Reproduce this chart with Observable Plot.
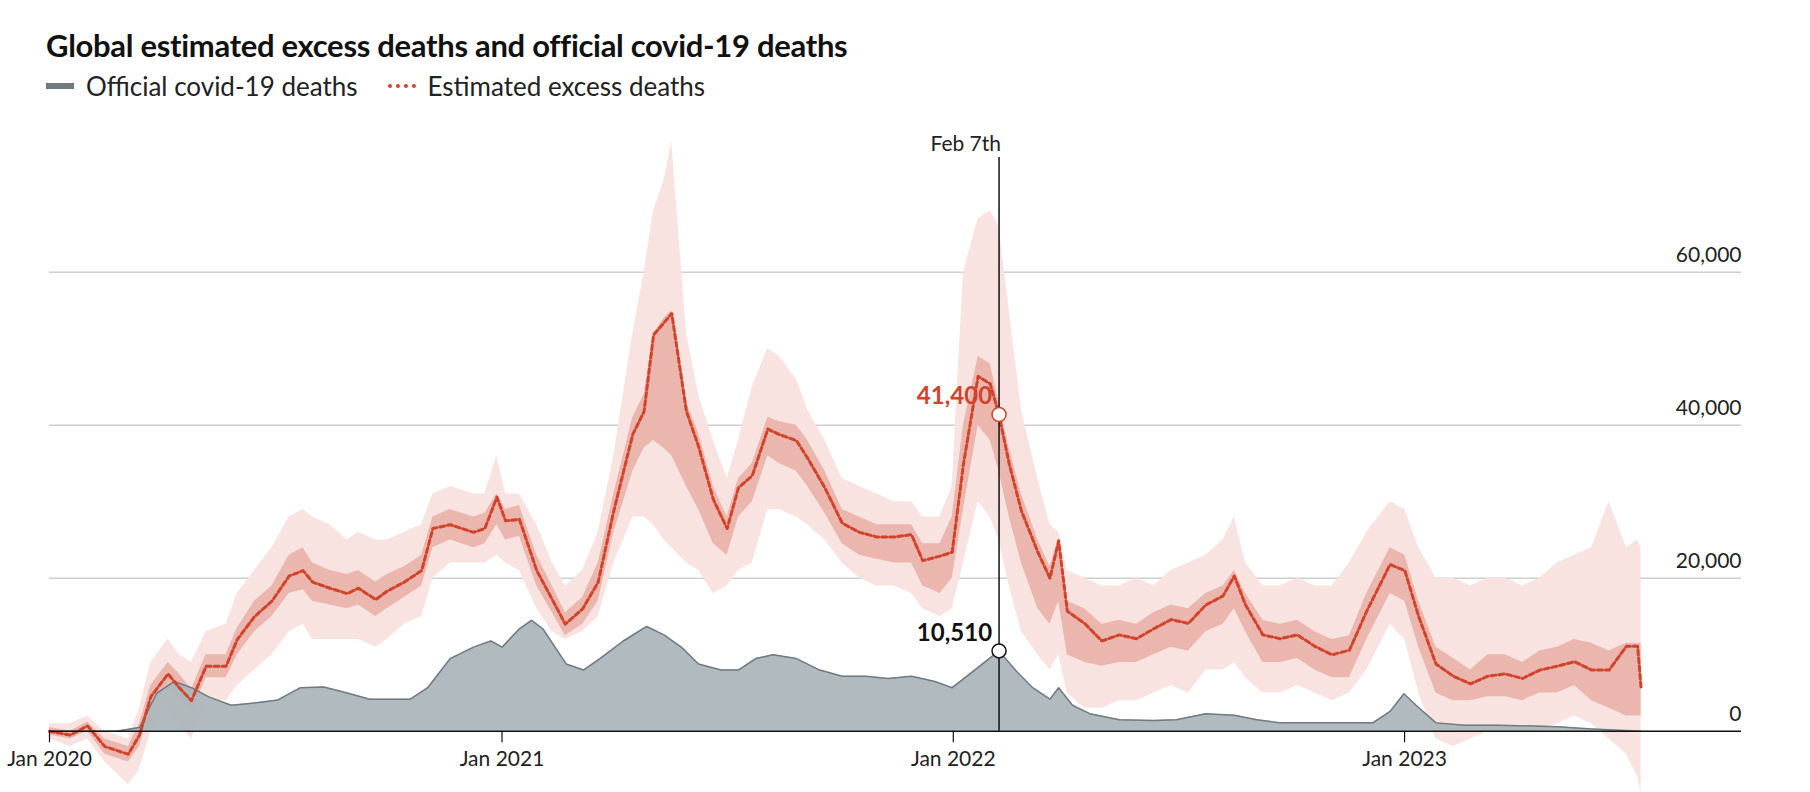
<!DOCTYPE html>
<html>
<head>
<meta charset="utf-8">
<script src="https://cdn.jsdelivr.net/npm/d3@7"></script>
<script src="https://cdn.jsdelivr.net/npm/@observablehq/plot@0.6"></script>
<style>
  body { margin: 0; background: #fff; font-family: Lato, "Open Sans", sans-serif; overflow: hidden; }
  #wrap { width: 1810px; height: 792px; position: relative; }
  h1 { position: absolute; left: 46px; top: 26px; margin: 0; font-size: 31px; font-weight: 700; color: #111; letter-spacing: -0.3px; }
  .legend { position: absolute; left: 46px; top: 70px; font-size: 26px; color: #222; display: flex; gap: 30px; }
  .legend span { display: inline-flex; align-items: center; }
  .sw { display: inline-block; width: 28px; height: 0; margin-right: 12px; }
  #chart { position: absolute; left: 0; top: 105px; }
</style>
</head>
<body>
<div id="wrap">
  <h1>Global estimated excess deaths and official covid-19 deaths</h1>
  <div class="legend">
    <span><i class="sw" style="border-top:6px solid #6f7b80"></i>Official covid-19 deaths</span>
    <span><i class="sw" style="border-top:4px dotted #d1432a"></i>Estimated excess deaths</span>
  </div>
  <div id="chart"></div>
</div>
<script>
// weeks since Jan 1st 2020, values in thousands
const estWeeks = [0,2.4,4.4,6.4,9.1,10.4,11.7,13.7,15,16.4,18.1,20.4,21.7,23.7,25.7,27.7,29.3,30.4,32.4,34.4,35.7,37.7,39,41,43,44.3,46.3,49,50.3,51.7,52.7,54.3,56.3,58.1,59.6,61.6,63.4,65.2,67.4,68.7,69.8,71,71.9,73.6,75,76.7,78.3,79.6,81.2,83,84.3,86.3,87.6,89.6,91.6,93.6,95.6,97.6,99.6,100.9,102.9,104.3,105.6,107.3,108.7,109.7,110.9,112.3,114.2,115.6,116.6,117.6,119.6,121.6,123.6,125.6,127.6,129.6,131.6,133.6,135.6,136.9,138.2,140.2,142.2,144.2,146.2,148.2,150.2,152.2,154.9,156.6,158.2,160.2,162.2,164.2,166.2,168.2,170.2,172.2,174.2,176.2,178.2,180.2,182.2,183.5,183.9];
const estimate = [0,-0.5,0.7,-2,-3,-0.5,4.5,7.5,5.7,4,8.5,8.5,12,15,17,20.3,21,19.5,18.7,18,18.7,17.2,18.3,19.5,21,26.5,27,26,26.5,30.6,27.5,27.7,21,17.2,14,16,19.5,28.8,38.8,41.8,51.8,53.4,54.6,41.8,37.2,30.3,26.5,31.8,33.4,39.5,38.8,38,35.7,31.8,27.2,26,25.4,25.4,25.7,22.3,22.9,23.4,34.9,46.4,45.4,41.4,34.9,28.8,23.4,20,24.9,15.7,14.1,11.8,12.6,12.1,13.4,14.6,14.1,16.5,17.7,20.3,16.5,12.6,12.1,12.6,11.1,10,10.6,15.7,21.8,21,15,8.8,7.2,6.2,7.2,7.5,6.9,8,8.5,9.1,8,8,11.1,11.1,5.7];
const innerLow = [-0.5,-1,0,-3,-4,-2,3,6,4,2.5,7,7,10,13,15,18,18.5,17,16.5,16,16.5,15,16,17.5,19,24,25,24,24.5,27,25,25.5,19,15.5,12.5,14,17,26,34,37,38,37,36,32,29,24.5,23,28,30,36,35,34,32,28.5,24.5,23,22.5,22,22,19,18,20,29,40,38,34,28,22,16,14,17,10,9,8.5,9,9,10,11,10.5,13,14,16,13,9,9,9.5,8,7,7,12,18,17,11,5,4,4,4.5,4.5,4,5,5,6,4,3,2,2,2];
const innerHigh = [0.5,0,1.2,-1,-2,1,6,9,7.5,5.5,10,10,13.5,17,19,23,24,22,21,20.5,21,19.5,20.5,21.5,23,28,29,28,28.5,31,29,29.5,23,19,15.5,17.5,22,31,41,44,52,54,55,43,39,32,28,33,35,41,40.5,40,38,34,29,28,27,27,27,24.5,24.5,28,40,49,48,43,37,31,25,21.5,25,17,16,14,14.5,14,15.5,16.5,16,18,19,21,18,14.5,14,14.5,13,12,12.5,18,24,23,17,11,9.5,8,10,10,9,10.5,11,12,11.5,10.5,11.5,11.5,11.5];
const outerLow = [-1,-2,-1,-4,-7,-5,0,3,1,-1,4,4,6,8,10,13,14,12,12,12,12,11,12,14,15,20,22,22,22,23,22,21,16,13,12,13,15,22,28,28,27,25,24,22,21,18,19,21,22,29,29,28,27,25,22,20,19,19,18,16,15,16,22,30,28,25,19,13,10,8,10,5,3,3,4,4,5,6,5,8,8,9,7,5,5,6,5,4,5,8,14,12,5,-1,-2,-1,0,0,0,0,1,2,1,-1,-3,-6,-8];
const outerHigh = [1,1,2,0,-1,3,9,12,10,9,13,14,18,21,24,28,29,28,27,25,26,25,25,26,27,31,32,31,31,36,31,31,27,22,19,21,26,36,52,60,68,72,77,52,44,38,33,38,45,50,49,46,42,38,33,32,31,30,30,28,28,32,60,67,68,66,55,42,33,27,26,21,20,19,19,20,19,21,22,23,25,28,22,19,19,20,19,19,22,26,30,29,24,20,20,19,20,20,19,20,22,23,24,30,24,25,24];

const offWeeks = [0,7.7,10.4,12.4,14.4,16.4,18.4,21,23.7,26.4,29,31.7,34.4,37,39.7,41.7,43.7,46.3,49,51,52.3,54.3,55.7,57,59.7,61.7,63.6,66.3,69,71,73,75,77.6,79.6,81.6,83.6,86.3,89,91.6,94.3,96.9,99.6,102.3,104.3,106.9,109.7,111.6,113.6,115.6,116.6,118.2,120.2,123.6,127.6,130.2,133.6,136.9,139.5,142.2,146.2,150.2,152.9,154.9,156.5,157.9,160.2,163.5,167.5,174.2,178.2,183.9];
const official = [0,0,0.5,5,6.5,5.7,4.5,3.4,3.7,4.1,5.7,5.8,5,4.2,4.2,4.2,5.7,9.5,11,11.8,11,13.4,14.5,13.4,8.8,8,9.5,11.8,13.7,12.6,11,8.8,8,8,9.5,10,9.5,8,7.2,7.2,6.9,7.2,6.5,5.7,8,10.51,8,5.7,4.2,5.7,3.4,2.3,1.5,1.4,1.5,2.3,2.1,1.5,1.1,1.1,1.1,1.1,2.6,4.9,3.4,1.1,0.8,0.8,0.6,0.3,0];

const yTicks = [0, 20000, 40000, 60000];
const yearTicks = ["2020-01-01", "2021-01-01", "2022-01-01", "2023-01-01"];
const markerDate = "2022-02-07";
const markerEstimate = 41400;
const markerOfficial = 10510;

const start = new Date(2020, 0, 1);
const wk = w => new Date(start.getTime() + w * 7 * 864e5);
const est = estWeeks.map((w, i) => ({date: wk(w), v: estimate[i] * 1000,
  il: innerLow[i] * 1000, ih: innerHigh[i] * 1000, ol: outerLow[i] * 1000, oh: outerHigh[i] * 1000}));
const off = offWeeks.map((w, i) => ({date: wk(w), v: official[i] * 1000}));
const years = yearTicks.map(d => new Date(d));
const mDate = new Date(markerDate);

const chart = Plot.plot({
  width: 1810,
  height: 687,
  marginLeft: 49,
  marginRight: 69,
  marginTop: 29,
  marginBottom: 0,
  style: {fontFamily: "Lato, 'Open Sans', sans-serif", fontSize: "21px", color: "#222", overflow: "hidden"},
  x: {type: "utc", domain: [start, wk(195.5)], axis: null},
  y: {domain: [-8000, 78000], axis: null},
  marks: [
    Plot.ruleY(yTicks.slice(1), {stroke: "#cfcfcf", strokeWidth: 1.5}),
    Plot.text(yTicks, {y: d => d, text: d => d3.format(",")(d), frameAnchor: "right", textAnchor: "end", dy: -17, fill: "#222"}),
    Plot.areaY(est, {x: "date", y1: "ol", y2: "oh", fill: "#f8e3e0", clip: true}),
    Plot.areaY(est, {x: "date", y1: "il", y2: "ih", fill: "#ebb6ae", clip: true}),
    Plot.areaY(off, {x: "date", y: "v", fill: "#adb6ba", fillOpacity: 0.95}),
    Plot.lineY(off, {x: "date", y: "v", stroke: "#6f7b80", strokeWidth: 1.5}),
    Plot.lineY(est, {x: "date", y: "v", stroke: "#d1432a", strokeWidth: 3, strokeDasharray: "5,3"}),
    Plot.ruleY([0], {stroke: "#111", strokeWidth: 1.5}),
    Plot.ruleX(years, {y1: 0, y2: -1500, stroke: "#111", strokeWidth: 1.2}),
    Plot.text(years, {x: d => d, y: -1500, text: d => "Jan " + d.getUTCFullYear(), lineAnchor: "top", dy: 8, fill: "#222"}),
    Plot.ruleX([mDate], {y1: 0, y2: 75000, stroke: "#111", strokeWidth: 1.5}),
    Plot.text([mDate], {x: d => d, y: 75000, text: ["Feb 7th"], lineAnchor: "bottom", dy: -6, textAnchor: "end", dx: 2, fill: "#222"}),
    Plot.dot([markerEstimate], {x: () => mDate, y: d => d, r: 7, fill: "#fff", stroke: "#d1432a", strokeWidth: 1.5}),
    Plot.dot([markerOfficial], {x: () => mDate, y: d => d, r: 7, fill: "#fff", stroke: "#111", strokeWidth: 1.5}),
    Plot.text([markerEstimate], {x: () => mDate, y: d => d, text: d => d3.format(",")(d), textAnchor: "end", dx: -7, dy: -18, fill: "#d1432a", fontWeight: 700, fontSize: 24}),
    Plot.text([markerOfficial], {x: () => mDate, y: d => d, text: d => d3.format(",")(d), textAnchor: "end", dx: -7, dy: -18, fill: "#111", fontWeight: 700, fontSize: 24})
  ]
});
document.getElementById("chart").append(chart);
</script>
</body>
</html>
